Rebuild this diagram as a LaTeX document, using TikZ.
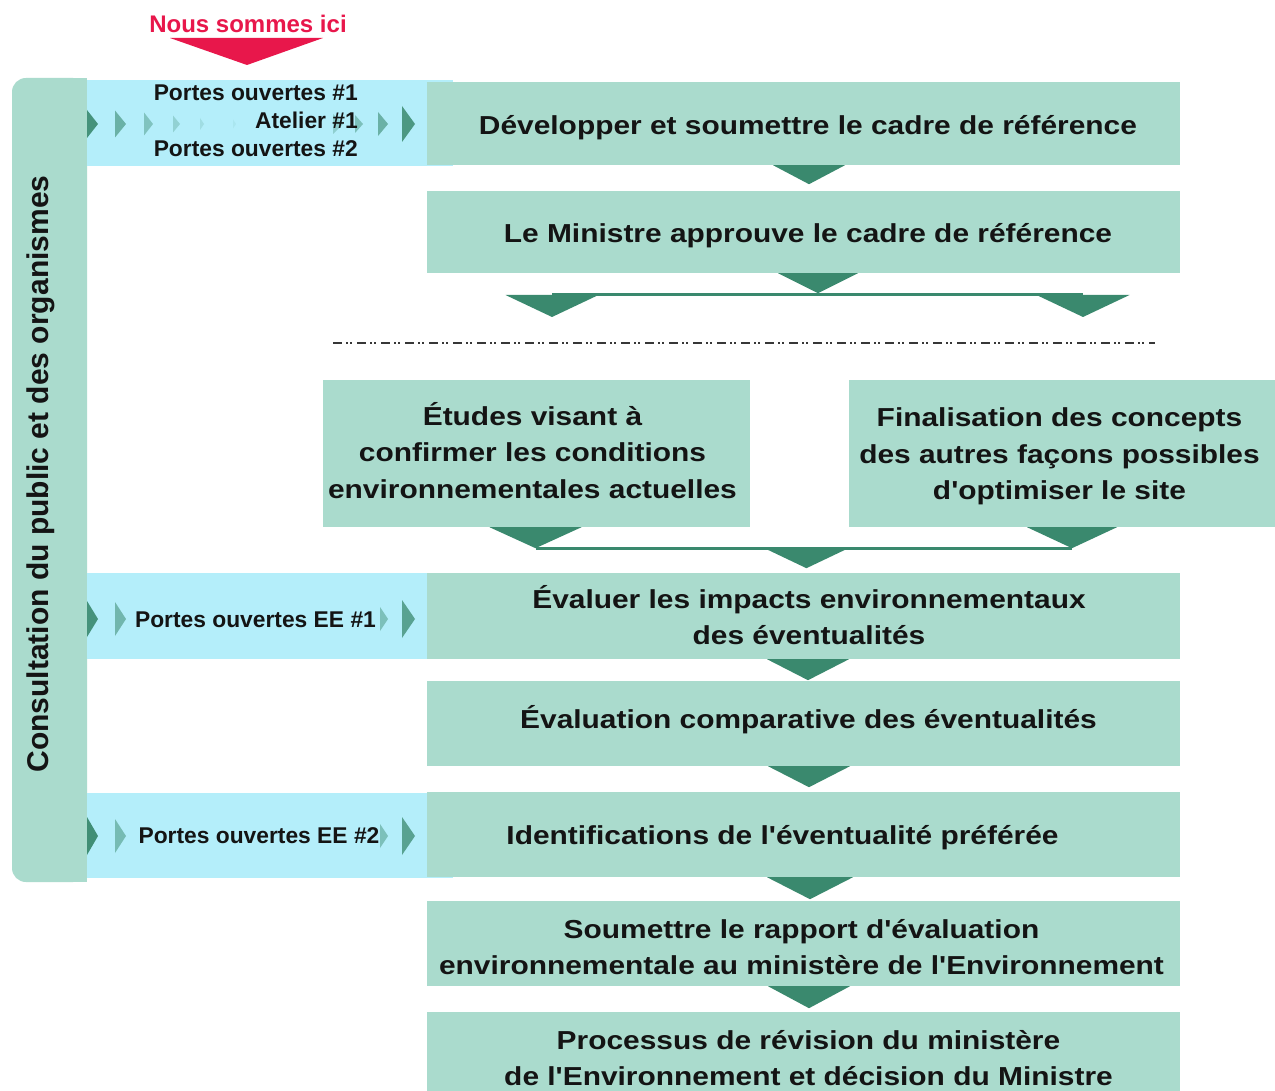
\documentclass[tikz,border=0pt]{standalone}
\usepackage{fontspec}
\setmainfont{Liberation Sans}[Ligatures=TeXOff]
\newfontfamily\boxfont{Liberation Sans}[FakeStretch=1.15]
\usetikzlibrary{calc}
\definecolor{boxgreen}{HTML}{AADBCD}
\definecolor{bandblue}{HTML}{B4EEFA}
\definecolor{trigreen}{HTML}{3A896E}
\definecolor{herered}{HTML}{E8174B}
\definecolor{ink}{HTML}{141414}
\newcommand\chev[5]{\fill[trigreen, opacity=#5] (#1,{#2-#4/2}) -- ({#1+#3},#2) -- (#1,{#2+#4/2}) -- cycle;}
\begin{document}
\begin{tikzpicture}[x=1pt,y=-1pt,
  stepbox/.style={fill=boxgreen, inner sep=0pt},
  widebox/.style={stepbox, minimum width=753pt},
  boxtext/.style={inner sep=0pt, align=center, text=ink,
    font=\boxfont\bfseries\fontsize{26}{36.5}\selectfont},
  bandbox/.style={fill=bandblue, inner sep=0pt, minimum width=366pt},
  smalltxt/.style={text=ink, inner sep=0pt, font=\bfseries\fontsize{22.8}{28}\selectfont},
  pics/dtri/.style n args={2}{code={\fill[trigreen] (-#1,0) -- (#1,0) -- (0,#2) -- cycle;}},
  joinline/.style={draw=trigreen, line width=3pt}
]
\fill[white] (0,0) rectangle (1275,1091);
\useasboundingbox (0,0) rectangle (1275,1091);

% "Nous sommes ici"
\node[text=herered, inner sep=0pt, font=\bfseries\fontsize{24}{28}\selectfont] (nous) at (248,24) {Nous sommes ici};
\fill[herered] (170,38) -- (323,38) -- (247,65) -- cycle;

% left consultation bar
\fill[boxgreen, rounded corners=14pt] (12,78) rectangle (87,882);
\fill[boxgreen] (60,78) rectangle (87,882);
\node[rotate=90, text=ink, inner sep=0pt, font=\bfseries\fontsize{30}{34}\selectfont] (lbl) at (41,474) {Consultation du public et des organismes};

% light blue bands
\node[bandbox, minimum height=86pt] (band1) at (270,123) {};
\node[bandbox, minimum height=86pt] (band2) at (270,616) {};
\node[bandbox, minimum height=85pt] (band3) at (270,835.5) {};

% chevrons, top band
\chev{87}{124}{11}{28}{0.9}
\chev{115}{124}{11}{27}{0.6}
\chev{144}{124}{9}{23}{0.42}
\chev{173}{124}{7}{17}{0.28}
\chev{200}{124}{4}{12}{0.16}
\chev{233}{124}{3}{9}{0.08}
\chev{333}{124}{10}{20}{0.3}
\chev{355}{124}{8}{18}{0.45}
\chev{378}{124}{10}{24}{0.6}
\chev{402}{124}{13}{36}{0.85}
% chevrons, EE #1
\chev{87}{619}{11}{36}{0.9}
\chev{115}{619}{11}{34}{0.55}
\chev{380}{619}{8}{24}{0.45}
\chev{402}{619}{13}{38}{0.75}
% chevrons, EE #2
\chev{87}{836}{11}{38}{0.95}
\chev{115}{836}{11}{34}{0.5}
\chev{380}{836}{8}{24}{0.45}
\chev{402}{836}{13}{38}{0.75}

% band texts
\node[smalltxt, align=right, anchor=east] (t1) at (358,121) {Portes ouvertes \#1\\Atelier \#1\\Portes ouvertes \#2};
\node[smalltxt] (e1) at (255.5,620) {Portes ouvertes EE \#1};
\node[smalltxt] (e2) at (259,836) {Portes ouvertes EE \#2};

% main step boxes
\node[widebox, minimum height=83pt] (b1) at (803.5,123.5) {};
\node[widebox, minimum height=82pt] (b2) at (803.5,232) {};
\node[stepbox, minimum width=427pt, minimum height=147pt] (b3) at (536.5,453.5) {};
\node[stepbox, minimum width=426pt, minimum height=147pt] (b4) at (1062,453.5) {};
\node[widebox, minimum height=86pt] (b5) at (803.5,616) {};
\node[widebox, minimum height=85pt] (b6) at (803.5,723.5) {};
\node[widebox, minimum height=85pt] (b7) at (803.5,834.5) {};
\node[widebox, minimum height=85pt] (b8) at (803.5,943.5) {};
\node[widebox, minimum height=79pt] (b9) at (803.5,1051.5) {};

% box texts
\node[boxtext] (b1t) at ($(b1.center)+(4.5,4)$) {Développer et soumettre le cadre de référence};
\node[boxtext] (b2t) at ($(b2.center)+(4.5,4)$) {Le Ministre approuve le cadre de référence};
\node[boxtext] (b3t) at ($(b3.center)+(-4,-3)$) {Études visant à\\confirmer les conditions\\environnementales actuelles};
\node[boxtext] (b4t) at ($(b4.center)+(-2.5,3)$) {Finalisation des concepts\\des autres façons possibles\\d'optimiser le site};
\node[boxtext] (b5t) at ($(b5.center)+(5.5,-1)$) {Évaluer les impacts environnementaux\\des éventualités};
\node[boxtext] (b6t) at ($(b6.center)+(5,-4)$) {Évaluation comparative des éventualités};
\node[boxtext] (b7t) at ($(b7.center)+(-21,3)$) {Identifications de l'éventualité préférée};
\node[boxtext] (b8t) at ($(b8.center)+(-2,3.5)$) {Soumettre le rapport d'évaluation\\environnementale au ministère de l'Environnement};
\node[boxtext] (b9t) at ($(b9.center)+(5,6.5)$) {Processus de révision du ministère\\de l'Environnement et décision du Ministre};

% step arrows
\pic at ($(b1.south)+(5.5,0)$) {dtri={36}{19}};
\pic at ($(b2.south)+(14.5,0)$) {dtri={40}{20}};
\coordinate (jl) at (552,295);
\coordinate (jr) at (1083,295);
\draw[joinline] (jl) -- (jr);
\pic at (jl) {dtri={46.5}{22}};
\pic at (jr) {dtri={46.5}{22}};
\coordinate (dl) at (333,343);
\coordinate (dr) at (1155,343);
\draw[draw=ink!85, line width=2pt, dash pattern=on 8.5pt off 4.5pt on 1.6pt off 2.4pt on 1.6pt off 5.4pt] (dl) -- (dr);

\coordinate (kl) at ($(b3.south)+(-1,0)$);
\coordinate (kr) at ($(b4.south)+(10,0)$);
\pic at (kl) {dtri={46}{21}};
\pic at (kr) {dtri={45}{21}};
\coordinate (ml) at ($(kl)+(0,21)$);
\coordinate (mr) at ($(kr)+(0,21)$);
\draw[joinline] (ml) -- (mr);
\pic at ($(ml)!0.505!(mr)$) {dtri={42}{20}};

\pic at ($(b5.south)+(4.5,0)$) {dtri={41}{21}};
\pic at ($(b6.south)+(5.5,0)$) {dtri={41}{21}};
\pic at ($(b7.south)+(6.5,0)$) {dtri={43}{22}};
\pic at ($(b8.south)+(5.5,0)$) {dtri={41}{22}};
\end{tikzpicture}
\end{document}
